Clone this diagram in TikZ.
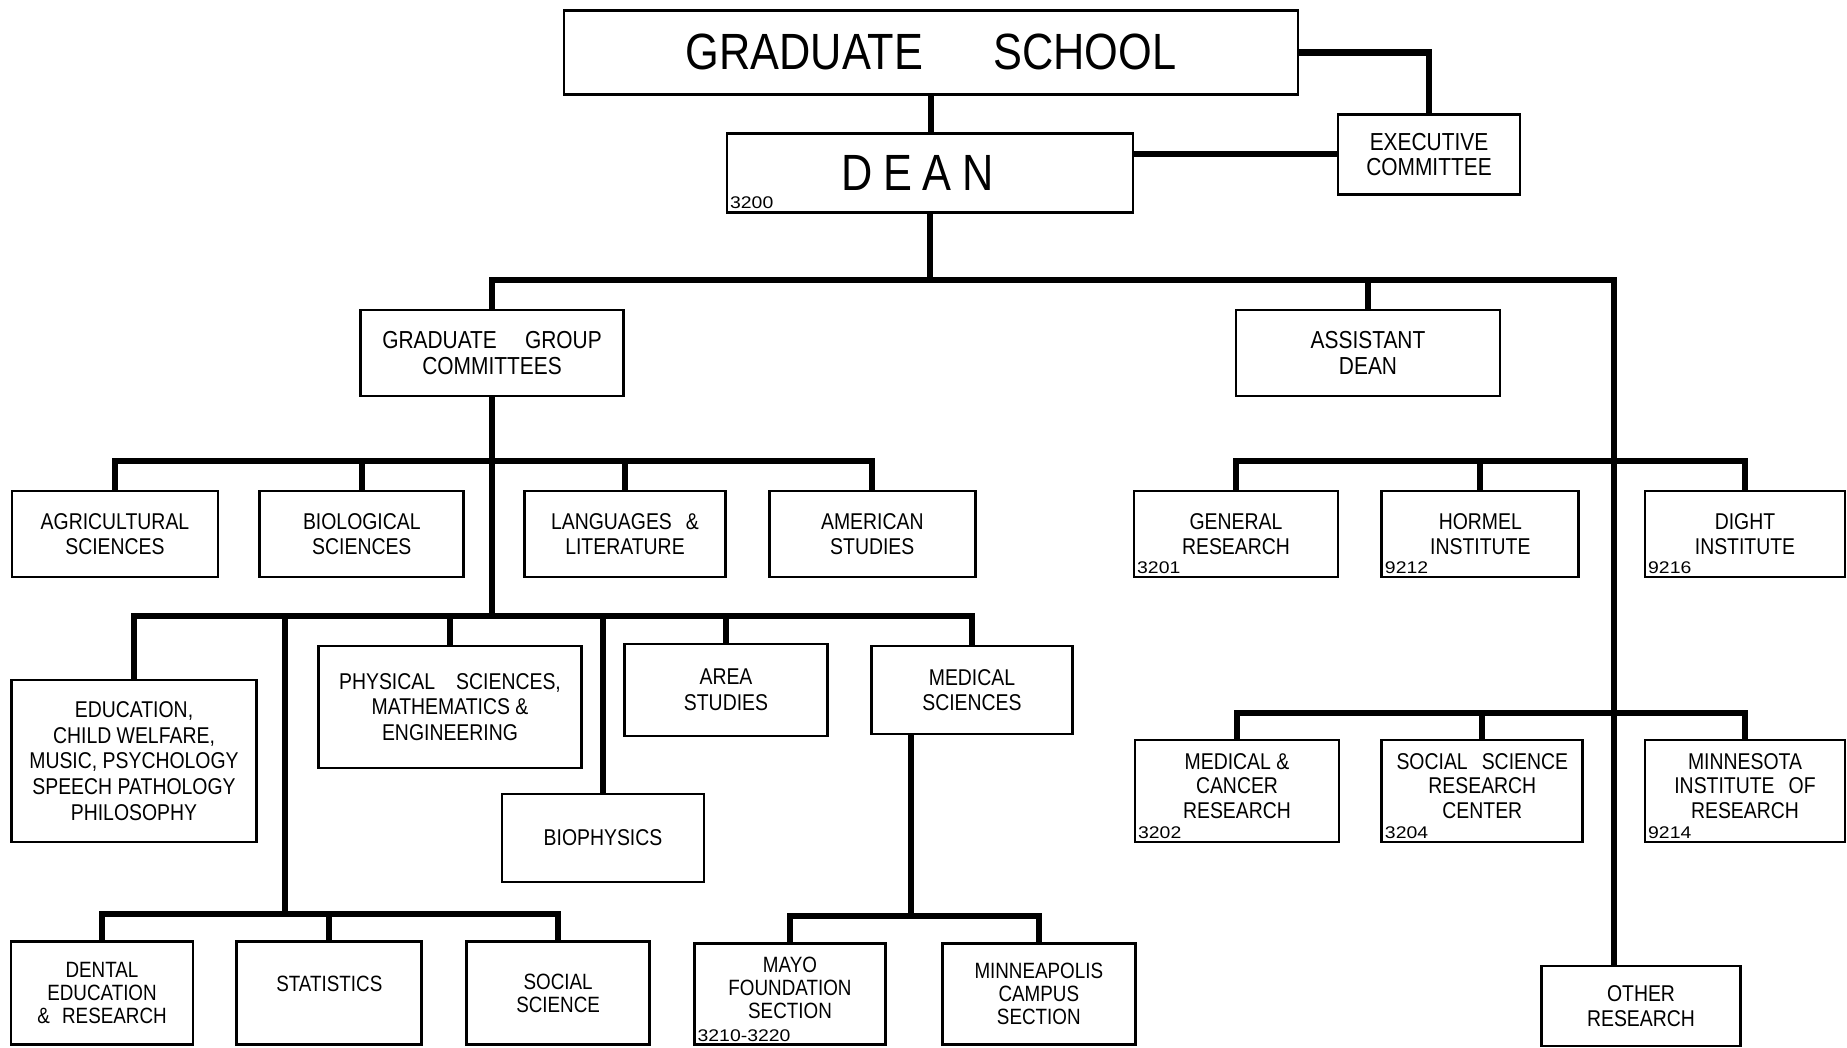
\documentclass[tikz,border=0pt]{standalone}
\usepackage{fontspec}
\setmainfont{Liberation Sans}[FakeStretch=0.85]
\newfontfamily\numfont{Liberation Sans}[FakeStretch=1.15]
\usepackage{tikz}
\usetikzlibrary{positioning, calc}
\tikzstyle{office} = [rectangle, draw=black, line width=0.8pt, align=center, inner sep=1pt]
\tikzstyle{head} = [office, font=\fontsize{14.5}{14.5}\selectfont]
\tikzstyle{board} = [office, minimum height=0.86cm, font=\fontsize{7}{7.4}\selectfont]
\tikzstyle{unit} = [office, minimum width=2.04cm, minimum height=0.86cm, font=\fontsize{6.5}{7.3}\selectfont]
\tikzstyle{subunit} = [office, minimum width=1.85cm, minimum height=1.03cm, font=\fontsize{6.3}{6.5}\selectfont]
\tikzstyle{acctnum} = [font=\numfont\fontsize{4.8}{4.8}\selectfont, inner sep=0.5pt, anchor=south west, xshift=0.6pt, yshift=0.6pt]
\tikzstyle{link} = [line width=1.8pt]
\tikzset{acct/.style={label={[acctnum]south west:#1}}}

\begin{document}
\begin{tikzpicture}[node distance=0.4cm, y=-1cm]
    \useasboundingbox (0,0) rectangle (18.47,10.47);

    % Top offices
    \node[head, minimum width=7.34cm, minimum height=0.84cm] (school) at (9.31,0.524) {GRADUATE\hspace{20pt}SCHOOL};
    \node[head, minimum width=4.06cm, minimum height=0.79cm, acct=3200] (dean) at (9.30,1.726) {D\hspace{3pt}E\hspace{3pt}A\hspace{3pt}N\hspace{0.25cm}};
    \node[board, minimum width=1.82cm, minimum height=0.80cm, font=\fontsize{7}{7}\selectfont] (exec) at (14.29,1.543) {EXECUTIVE\\COMMITTEE};
    \node[board, minimum width=2.63cm] (ggc) at (4.92,3.53) {GRADUATE\hspace{8pt}GROUP\\COMMITTEES};
    \node[board, minimum width=2.64cm] (asst) at (13.68,3.53) {ASSISTANT\\DEAN};

    % Group committees
    \node[unit, minimum width=2.06cm] (agri) at (1.15,5.34) {AGRICULTURAL\\SCIENCES};
    \node[unit, right=0.39cm of agri] (bio) {BIOLOGICAL\\SCIENCES};
    \node[unit, minimum width=2.01cm] (lang) at (6.25,5.34) {LANGUAGES\hspace{4pt}\&\\LITERATURE};
    \node[unit, minimum width=2.06cm, right=0.41cm of lang] (amer) {AMERICAN\\STUDIES};

    \node[unit, minimum width=2.45cm, minimum height=1.62cm] (educ) at (1.34,7.61) {EDUCATION,\\CHILD WELFARE,\\MUSIC, PSYCHOLOGY\\SPEECH PATHOLOGY\\PHILOSOPHY};
    \node[unit, minimum width=2.63cm, minimum height=1.22cm] (phys) at (4.50,7.07) {PHYSICAL\hspace{6pt}SCIENCES,\\MATHEMATICS \&\\ENGINEERING};
    \node[unit, minimum width=2.02cm, minimum height=0.88cm] (biophys) at (6.03,8.38) {BIOPHYSICS};
    \node[unit, minimum width=2.03cm, minimum height=0.92cm] (area) at (7.26,6.90) {AREA\\STUDIES};
    \node[unit, minimum width=2.01cm, minimum height=0.88cm] (medsci) at (9.72,6.90) {MEDICAL\\SCIENCES};

    \node[subunit, minimum width=1.82cm] (dental) at (1.02,9.93) {DENTAL\\EDUCATION\\\& \hspace{2pt}RESEARCH};
    \node[subunit, right=0.41cm of dental] (stat) {STATISTICS\\[-1pt]\mbox{}};
    \node[subunit, minimum width=1.83cm, right=0.42cm of stat] (social) {SOCIAL\\SCIENCE};
    \node[subunit, minimum width=1.91cm, minimum height=1.01cm, acct=3210-3220] (mayo) at (7.90,9.94) {MAYO\\FOUNDATION\\SECTION\\[-3pt]\mbox{}};
    \node[subunit, minimum width=1.93cm, minimum height=1.01cm, right=0.54cm of mayo] (mpls) {MINNEAPOLIS\\CAMPUS\\SECTION};

    % Research
    \node[unit, acct=3201] (genres) at (12.36,5.34) {GENERAL\\RESEARCH};
    \node[unit, minimum width=1.97cm, acct=9212, right=0.41cm of genres] (hormel) {HORMEL\\INSTITUTE};
    \node[unit, minimum width=2.00cm, acct=9216] (dight) at (17.45,5.34) {DIGHT\\INSTITUTE};
    \node[unit, minimum height=1.02cm, font=\fontsize{6.5}{7}\selectfont, acct=3202] (medcan) at (12.37,7.91) {MEDICAL \&\\CANCER\\RESEARCH\\[-4pt]\mbox{}};
    \node[unit, minimum width=2.01cm, minimum height=1.02cm, font=\fontsize{6.5}{7}\selectfont, acct=3204, right=0.40cm of medcan] (ssrc) {SOCIAL\hspace{4pt}SCIENCE\\RESEARCH\\CENTER\\[-4pt]\mbox{}};
    \node[unit, minimum width=2.00cm, minimum height=1.02cm, font=\fontsize{6.5}{7}\selectfont, acct=9214] (minn) at (17.45,7.91) {MINNESOTA\\INSTITUTE\hspace{4pt}OF\\RESEARCH\\[-4pt]\mbox{}};
    \node[unit, minimum width=1.99cm, minimum height=0.80cm] (other) at (16.41,10.06) {OTHER\\RESEARCH};

    % Bus levels
    \coordinate (lvA) at (0,2.80);
    \coordinate (lvB) at (0,4.61);
    \coordinate (lvC) at (0,6.16);
    \coordinate (lvD) at (0,9.14);
    \coordinate (lvE) at (0,7.13);
    \coordinate (lvF) at (0,9.16);
    \coordinate (trunk) at (16.14,2.80);
    \coordinate (statstem) at (2.85,6.16);
    \coordinate (medstem) at ($(medsci.south)+(-0.61,0)$);

    % Connectors
    \draw[link] (school.south) -- (school.south |- dean.north);
    \draw[link] (school.east) -| (exec.north);
    \draw[link] (exec.west) -- (exec.west -| dean.east);
    \draw[link] (dean.south) -- (dean.south |- lvA);
    \draw[link] (ggc.north) |- (trunk) -- (trunk |- other.north);
    \draw[link] (asst.north) -- (asst.north |- lvA);

    \draw[link] (agri.north) |- (amer.north |- lvB) -- (amer.north);
    \draw[link] (bio.north) -- (bio.north |- lvB);
    \draw[link] (lang.north) -- (lang.north |- lvB);
    \draw[link] (ggc.south) -- (ggc.south |- lvC);
    \draw[link] (educ.north) |- (medsci.north |- lvC) -- (medsci.north);
    \draw[link] (phys.north) -- (phys.north |- lvC);
    \draw[link] (area.north) -- (area.north |- lvC);
    \draw[link] (biophys.north) -- (biophys.north |- lvC);
    \draw[link] (statstem) -- (statstem |- lvD);
    \draw[link] (dental.north) |- (social.north |- lvD) -- (social.north);
    \draw[link] (stat.north) -- (stat.north |- lvD);
    \draw[link] (medstem) -- (medstem |- lvF);
    \draw[link] (mayo.north) |- (mpls.north |- lvF) -- (mpls.north);

    \draw[link] (genres.north) |- (dight.north |- lvB) -- (dight.north);
    \draw[link] (hormel.north) -- (hormel.north |- lvB);
    \draw[link] (medcan.north) |- (minn.north |- lvE) -- (minn.north);
    \draw[link] (ssrc.north) -- (ssrc.north |- lvE);
\end{tikzpicture}
\end{document}
